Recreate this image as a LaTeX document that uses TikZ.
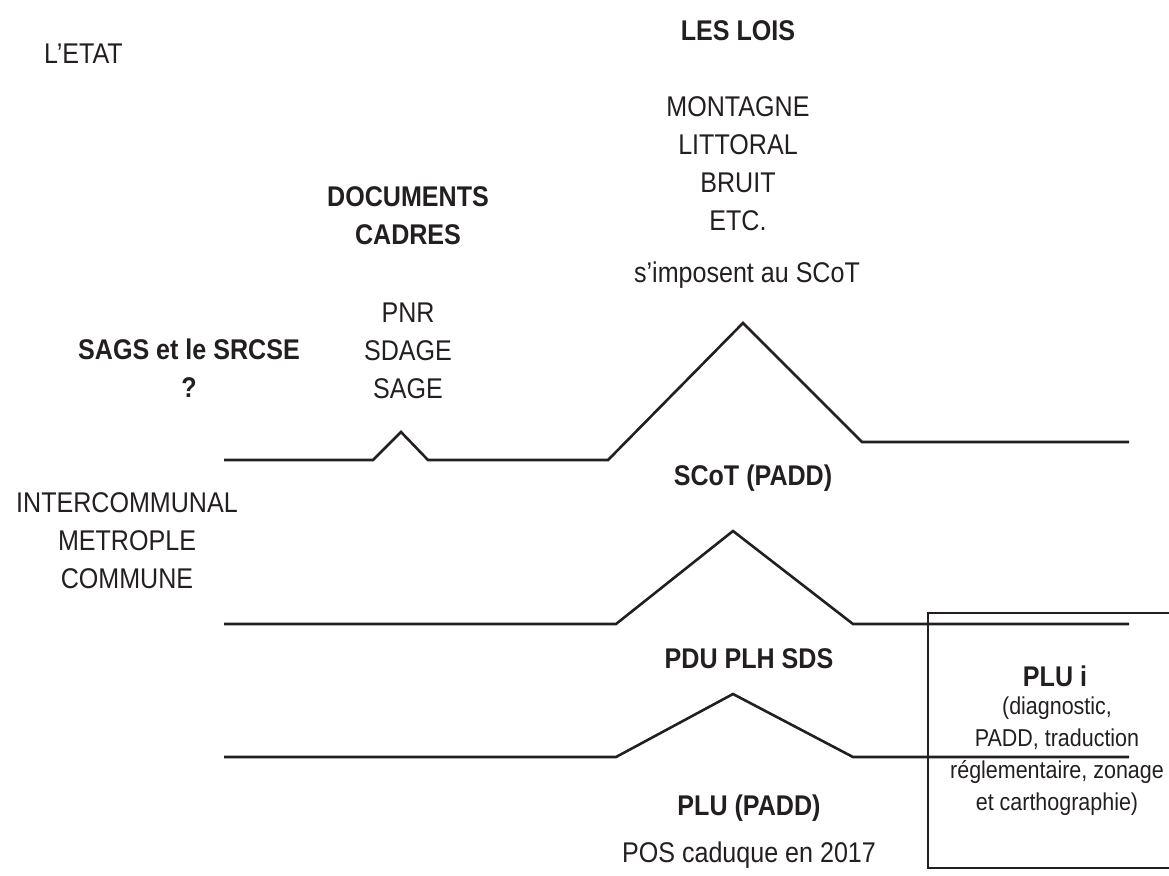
\documentclass[tikz,border=0pt]{standalone}
\usepackage{fontspec}
\setmainfont{Liberation Sans}[FakeStretch=0.88]
\usepackage{tikz}
\definecolor{ink}{RGB}{35, 31, 32}
\tikzset{
  trait/.style={draw=ink, line width=1.3pt, line join=miter},
  txt/.style={text=ink, align=center, inner sep=0pt, anchor=base,
    font=\fontsize{14.25}{19}\selectfont},
  titre/.style={txt, font=\fontsize{14.25}{19}\selectfont\bfseries},
  petit/.style={txt, font=\fontsize{12.2}{16}\selectfont}
}

\begin{document}
\begin{tikzpicture}[x=0.5pt, y=-0.5pt]
	% cadre de l'image
	\useasboundingbox (0,0) rectangle (1169,875);

	% niveau de l'Etat (base = derniere ligne)
	\node[txt] (etat) at (83.5,63) {L’ETAT};
	\node[titre] (lois) at (738,40) {LES LOIS};
	\node[txt] (listelois) at (738,230) {MONTAGNE\\LITTORAL\\BRUIT\\ETC.};
	\node[txt] (imposent) at (747,282) {s’imposent au SCoT};
	\node[titre] (docs) at (408,244) {DOCUMENTS\\CADRES};
	\node[txt] (pnr) at (408,398) {PNR\\SDAGE\\SAGE};
	\node[titre] (sags) at (189,397) {SAGS et le SRCSE\\?};

	% ligne du haut
	\draw[trait] (224,460) -- (373,460) -- (401,432) -- (428,460) -- (608,460)
		-- (743,323) -- (862,442) -- (1129,442);

	% niveau intercommunal
	\node[txt] (inter) at (127,588) {INTERCOMMUNAL\\METROPLE\\COMMUNE};
	\node[titre] (scot) at (753,485) {SCoT (PADD)};

	% ligne du milieu
	\draw[trait] (224,624) -- (616,624) -- (733,531) -- (853,624) -- (1129,624);
	\node[titre] (pdu) at (749,668) {PDU PLH SDS};

	% ligne du bas
	\draw[trait] (224,757) -- (616,757) -- (733,694) -- (853,757) -- (1129,757);
	\node[titre] (plu) at (749,815) {PLU (PADD)};
	\node[txt] (pos) at (749,862) {POS caduque en 2017};

	% cadre PLU i (ouvert a droite)
	\draw[trait] (1175,613) -- (928,613) -- (928,868) -- (1175,868);
	\node[titre] (plui) at (1055,686) {PLU i};
	\node[petit] (pluidetail) at (1057,810) {(diagnostic,\\PADD, traduction\\réglementaire, zonage\\et carthographie)};
\end{tikzpicture}
\end{document}
